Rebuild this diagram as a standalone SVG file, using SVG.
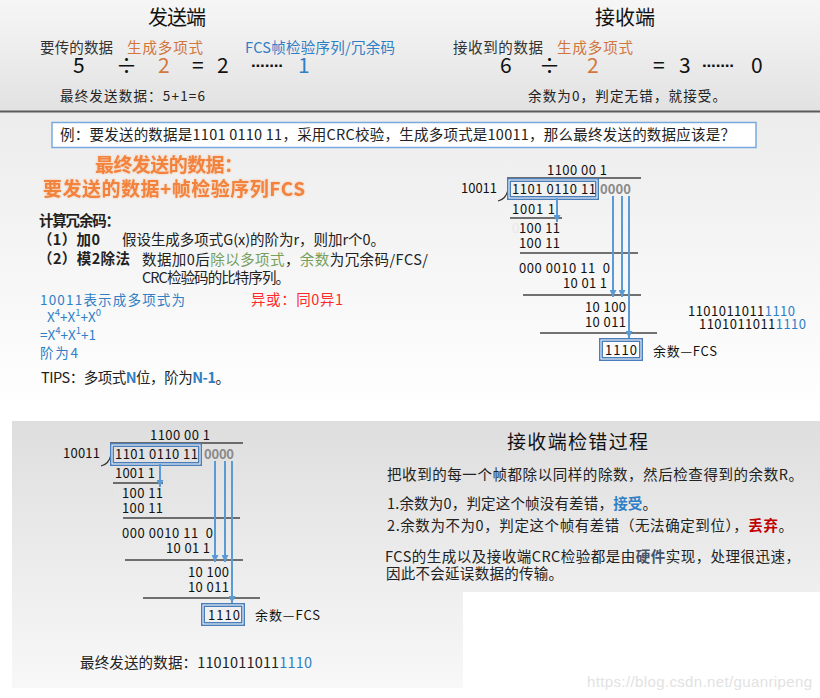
<svg xmlns="http://www.w3.org/2000/svg" width="820" height="698" viewBox="0 0 820 698">
<defs>
<style>
text{font-family:'Noto Sans CJK SC','Noto Sans',sans-serif;fill:#222}
.cn{font-size:14.5px}
.cnp{font-size:13.5px}
.sm{font-size:13.5px}
.num{font-size:13px;fill:#111}
.big{font-size:21px;fill:#111}
.dots{font-family:'Liberation Sans',sans-serif;font-size:17px;font-weight:bold;fill:#111}
.ttl{font-size:20px;fill:#111}
.org{fill:#d2763c}
.blu{fill:#2f7fc6}
.grn{fill:#76a05a}
.red{fill:#ff2a2a}
.dred{fill:#c00000}
.b{font-weight:bold}
.hd{font-size:19px;font-weight:bold;fill:#f3823c}
.zero{fill:#8a8a8a;font-weight:bold}
.rule{stroke:#444;stroke-width:1.3;fill:none}
.arr{stroke:#5b9bd5;stroke-width:2;fill:none;marker-end:url(#ah)}
.boxo{fill:none;stroke:#4a7ebb;stroke-width:4}
.boxi{fill:none;stroke:#fff;stroke-width:1}
</style>
<linearGradient id="gTop" x1="0" y1="0" x2="0" y2="1">
<stop offset="0" stop-color="#f6f6f6"/><stop offset="1" stop-color="#e2e2e2"/>
</linearGradient>
<linearGradient id="gMid" x1="0" y1="0" x2="0" y2="1">
<stop offset="0" stop-color="#ececec"/><stop offset="1" stop-color="#ffffff"/>
</linearGradient>
<linearGradient id="gBot" x1="0" y1="0" x2="0" y2="1">
<stop offset="0" stop-color="#dedede"/><stop offset="1" stop-color="#f8f8f8"/>
</linearGradient>
<marker id="ah" viewBox="0 0 10 10" refX="10" refY="5" markerWidth="7" markerHeight="7" markerUnits="userSpaceOnUse" orient="auto">
<path d="M0,0 L10,5 L0,10 z" fill="#5b9bd5"/>
</marker>
<filter id="glow" x="-5%" y="-20%" width="110%" height="140%">
<feGaussianBlur in="SourceAlpha" stdDeviation="1.2" result="b"/>
<feFlood flood-color="#f6b27e" flood-opacity="0.8"/>
<feComposite in2="b" operator="in" result="s"/>
<feMerge><feMergeNode in="s"/><feMergeNode in="SourceGraphic"/></feMerge>
</filter>
</defs>

<g id="backgrounds">
<rect x="0" y="0" width="820" height="111" fill="url(#gTop)"/>
<rect x="0" y="112" width="820" height="300" fill="url(#gMid)"/>
<line x1="0" y1="111.5" x2="820" y2="111.5" stroke="#5a5a5a" stroke-width="2"/>
<path d="M12,421 H820 V592 H463 V688 H12 Z" fill="url(#gBot)"/>
</g>

<g id="sender">
<text class="ttl" x="148" y="25" textLength="58">发送端</text>
<text class="cn" x="40" y="53" textLength="73" style="fill:#333">要传的数据</text>
<text class="cn org" x="127" y="53" textLength="76">生成多项式</text>
<text class="cn blu" x="245" y="53" textLength="150">FCS帧检验序列/冗余码</text>
<text class="big" x="73" y="73">5</text>
<text class="big" x="116" y="73">÷</text>
<text class="big org" x="158" y="73">2</text>
<text class="big" x="192" y="73">=</text>
<text class="big" x="217" y="73">2</text>
<text class="dots" x="251" y="71" textLength="33">·······</text>
<text class="big blu" x="298" y="73">1</text>
<text class="sm" x="60" y="101" textLength="145">最终发送数据：5+1=6</text>
</g>

<g id="receiver">
<text class="ttl" x="595" y="25" textLength="60">接收端</text>
<text class="cn" x="453" y="53" textLength="90" style="fill:#333">接收到的数据</text>
<text class="cn org" x="557" y="53" textLength="76">生成多项式</text>
<text class="big" x="500" y="73">6</text>
<text class="big" x="539" y="73">÷</text>
<text class="big org" x="587" y="73">2</text>
<text class="big" x="653" y="73">=</text>
<text class="big" x="679" y="73">3</text>
<text class="dots" x="702" y="71" textLength="33">·······</text>
<text class="big" x="751" y="73">0</text>
<text class="sm" x="528" y="101" textLength="198">余数为0，判定无错，就接受。</text>
</g>

<g id="example">
<rect x="52" y="122.5" width="704" height="25" fill="#fff" stroke="#7aa9dc" stroke-width="1.5"/>
<text class="cn" x="60" y="140" textLength="675">例：要发送的数据是1101 0110 11，采用CRC校验，生成多项式是10011，那么最终发送的数据应该是？</text>
</g>

<g id="headline" filter="url(#glow)">
<text class="hd" x="95" y="172" textLength="148">最终发送的数据：</text>
<text class="hd" x="43" y="196" textLength="262">要发送的数据+帧检验序列FCS</text>
</g>

<g id="method">
<text class="cn b" x="39" y="226" textLength="81">计算冗余码：</text>
<text class="cn b" x="38" y="245" textLength="62">（1）加0</text>
<text class="cn" x="122" y="245" textLength="263">假设生成多项式G(x)的阶为r，则加r个0。</text>
<text class="cn b" x="38" y="264" textLength="92">（2）模2除法</text>
<text class="cn" x="142" y="265" textLength="286">数据加0后<tspan class="grn">除以多项式</tspan>，<tspan class="grn">余数</tspan>为冗余码/FCS/</text>
<text class="cn" x="142" y="283" textLength="148">CRC检验码的比特序列。</text>
</g>

<g id="polynomial">
<text class="cnp blu" x="40" y="305" textLength="145">10011表示成多项式为</text>
<text class="cnp blu" x="47" y="322">X<tspan font-size="9.5" dy="-6">4</tspan><tspan dy="6">+X</tspan><tspan font-size="9.5" dy="-6">1</tspan><tspan dy="6">+X</tspan><tspan font-size="9.5" dy="-6">0</tspan></text>
<text class="cnp blu" x="40" y="340">=X<tspan font-size="9.5" dy="-6">4</tspan><tspan dy="6">+X</tspan><tspan font-size="9.5" dy="-6">1</tspan><tspan dy="6">+1</tspan></text>
<text class="cnp blu" x="40" y="358" textLength="38">阶为4</text>
<text class="cn red" x="251" y="305" textLength="92">异或：同0异1</text>
<text class="cn" x="41" y="383" textLength="189">TIPS：多项式<tspan class="blu b">N</tspan>位，阶为<tspan class="blu b">N-1</tspan>。</text>
</g>

<g id="division-top">
<text class="num" x="547" y="175" textLength="60">1100 00 1</text>
<line class="rule" x1="507" y1="178" x2="641" y2="178"/>
<text class="num" x="461" y="193" textLength="36">10011</text>
<path d="M498,201 Q506,199 508,190" fill="none" stroke="#333" stroke-width="1.2"/>
<rect class="boxo" x="509" y="180" width="88" height="18"/>
<rect class="boxi" x="509" y="180" width="88" height="18"/>
<text class="num" x="512" y="194" textLength="84">1101 0110 11</text>
<text class="num zero" x="600" y="194" textLength="31">0000</text>
<text class="num" x="512" y="214" textLength="43">1001 1</text>
<line class="rule" x1="510" y1="218" x2="562" y2="218"/>
<text class="num" x="512" y="233" style="fill:#e8e8e8">0</text>
<text class="num" x="519" y="233" textLength="41">100 11</text>
<text class="num" x="519" y="248" textLength="41">100 11</text>
<line class="rule" x1="520" y1="253" x2="638" y2="253"/>
<text class="num" x="519" y="273" textLength="91" xml:space="preserve">000 0010 11  0</text>
<text class="num" x="563" y="288" textLength="44">10 01 1</text>
<line class="rule" x1="523" y1="295" x2="641" y2="295"/>
<text class="num" x="585" y="312" textLength="41">10 100</text>
<text class="num" x="585" y="327" textLength="41">10 011</text>
<line class="rule" x1="540" y1="333" x2="657" y2="333"/>
<rect class="boxo" x="601" y="340" width="40" height="19"/>
<rect class="boxi" x="601" y="340" width="40" height="19"/>
<text class="num" x="605" y="355" textLength="32">1110</text>
<text class="num" x="653" y="356" textLength="64">余数—FCS</text>
<text class="num" x="688" y="316" textLength="107">1101011011<tspan class="blu">1110</tspan></text>
<text class="num" x="699" y="329" textLength="107">1101011011<tspan class="blu">1110</tspan></text>
</g>

<g id="division-bottom">
<text class="num" x="150" y="440" textLength="60">1100 00 1</text>
<line class="rule" x1="110" y1="443" x2="243" y2="443"/>
<text class="num" x="63" y="458" textLength="37">10011</text>
<path d="M101,466 Q109,464 111,455" fill="none" stroke="#333" stroke-width="1.2"/>
<rect class="boxo" x="112" y="445" width="88" height="19"/>
<rect class="boxi" x="112" y="445" width="88" height="19"/>
<text class="num" x="115" y="459" textLength="83">1101 0110 11</text>
<text class="num zero" x="204" y="459" textLength="30">0000</text>
<text class="num" x="115" y="478" textLength="40">1001 1</text>
<line class="rule" x1="113" y1="483" x2="163" y2="483"/>
<text class="num" x="114" y="498" style="fill:#e8e8e8">0</text>
<text class="num" x="122" y="498" textLength="41">100 11</text>
<text class="num" x="122" y="513" textLength="41">100 11</text>
<line class="rule" x1="123" y1="518" x2="240" y2="518"/>
<text class="num" x="122" y="538" textLength="91" xml:space="preserve">000 0010 11  0</text>
<text class="num" x="166" y="553" textLength="44">10 01 1</text>
<line class="rule" x1="125" y1="560" x2="243" y2="560"/>
<text class="num" x="188" y="577" textLength="41">10 100</text>
<text class="num" x="188" y="592" textLength="41">10 011</text>
<line class="rule" x1="143" y1="598" x2="260" y2="598"/>
<rect class="boxo" x="203" y="605" width="40" height="19"/>
<rect class="boxi" x="203" y="605" width="40" height="19"/>
<text class="num" x="208" y="620" textLength="32">1110</text>
<text class="num" x="255" y="620" textLength="65">余数—FCS</text>
<text class="cn" x="80" y="668" textLength="232">最终发送的数据：1101011011<tspan class="blu">1110</tspan></text>
</g>

<g id="connectors">
<line class="arr" x1="557" y1="198" x2="557" y2="222"/>
<line class="arr" x1="613" y1="196" x2="613" y2="297"/>
<line class="arr" x1="622" y1="196" x2="622" y2="297"/>
<line class="arr" x1="629" y1="196" x2="629" y2="338"/>
<line class="arr" x1="160" y1="464" x2="160" y2="487"/>
<line class="arr" x1="215" y1="461" x2="215" y2="562"/>
<line class="arr" x1="225" y1="461" x2="225" y2="562"/>
<line class="arr" x1="232" y1="461" x2="232" y2="603"/>
</g>

<g id="receiver-check">
<text class="ttl" x="507" y="449" textLength="141" style="font-size:19px">接收端检错过程</text>
<text class="cn" x="387" y="480" textLength="416">把收到的每一个帧都除以同样的除数，然后检查得到的余数R。</text>
<text class="cn" x="387" y="509" textLength="270">1.余数为0，判定这个帧没有差错，<tspan class="blu b">接受</tspan>。</text>
<text class="cn" x="387" y="531" textLength="406">2.余数为不为0，判定这个帧有差错（无法确定到位），<tspan class="dred b">丢弃</tspan>。</text>
<text class="cn" x="385" y="562" textLength="415">FCS的生成以及接收端CRC检验都是由<tspan class="b" style="fill:#44546a">硬件</tspan>实现，处理很迅速，</text>
<text class="cn" x="386" y="579" textLength="177">因此不会延误数据的传输。</text>
</g>

<text x="587" y="687" textLength="225" style="font-family:'Liberation Sans',sans-serif;font-size:15px;fill:#e2e2e2">https://blog.csdn.net/guanripeng</text>
</svg>
